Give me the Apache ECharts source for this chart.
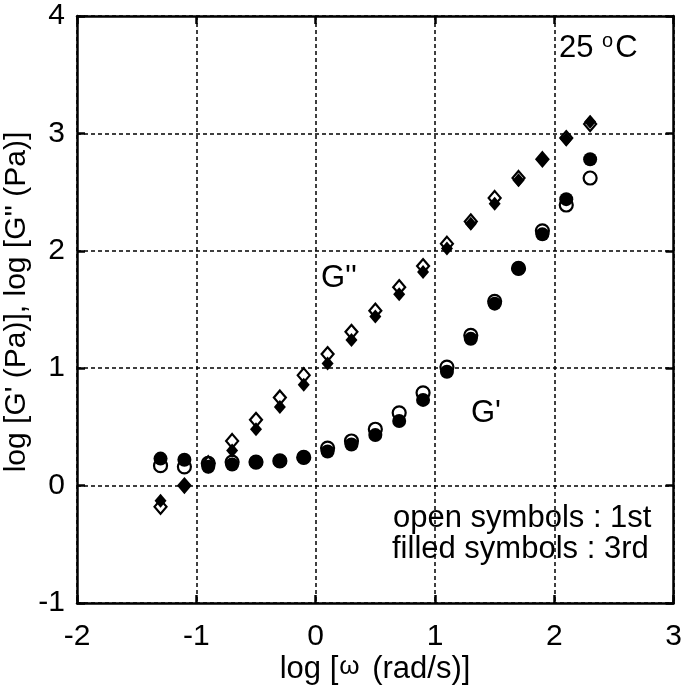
<!DOCTYPE html>
<html><head><meta charset="utf-8">
<script src="https://cdn.jsdelivr.net/npm/echarts@6/dist/echarts.min.js"></script>
<style>html,body{margin:0;padding:0;background:#fff}#c{width:685px;height:685px}</style>
</head><body><div id="c"></div>
<script>
const logOmega = [-1.3,-1.1,-0.9,-0.7,-0.5,-0.3,-0.1,0.1,0.3,0.5,0.7,0.9,1.1,1.3,1.5,1.7,1.9,2.1,2.3];
const gp1st  = [0.17,0.16,0.19,0.20,0.20,0.21,0.24,0.32,0.38,0.48,0.62,0.79,1.01,1.28,1.57,1.85,2.17,2.39,2.62];
const gp3rd  = [0.23,0.22,0.16,0.18,0.20,0.21,0.24,0.29,0.35,0.43,0.55,0.73,0.97,1.25,1.55,1.85,2.14,2.44,2.78];
const gpp1st = [-0.18,0.00,0.19,0.38,0.56,0.75,0.94,1.12,1.31,1.49,1.69,1.87,2.06,2.25,2.45,2.62,2.78,2.96,3.08];
const gpp3rd = [-0.13,0.00,0.16,0.30,0.48,0.67,0.86,1.04,1.24,1.44,1.63,1.82,2.02,2.23,2.40,2.60,2.78,2.95,3.10];
const xTicks = [-2,-1,0,1,2,3];
const yTicks = [-1,0,1,2,3,4];

const pair = (xs, ys) => xs.map((x,i)=>[x, ys[i]]);
const FONT = '"Liberation Sans", Arial, sans-serif';
const FS = 30, FT = 31;
const chart = echarts.init(document.getElementById('c'));
const axisCommon = {
  axisLine:{show:true,onZero:false,lineStyle:{color:'#000',width:2.5}},
  axisTick:{show:true,inside:true,length:8,lineStyle:{color:'#000',width:2.5}},
  splitLine:{show:false}
};
const gridLine = {show:true,lineStyle:{color:'#000',type:[4,3],width:1.5}};
chart.setOption({
  animation:false,
  backgroundColor:'#fff',
  grid:{left:77,right:8,top:16,bottom:82},
  xAxis:[
    Object.assign({type:'value',min:-2,max:3,interval:1,position:'bottom',
      axisLabel:{fontFamily:FONT,fontSize:FS,color:'#000',margin:19,
        formatter:v=>xTicks.includes(v)?String(v):''},
    }, axisCommon, {splitLine:gridLine}),
    Object.assign({type:'value',min:-2,max:3,interval:1,position:'top',axisLabel:{show:false}}, axisCommon)
  ],
  yAxis:[
    Object.assign({type:'value',min:-1,max:4,interval:1,position:'left',
      axisLabel:{fontFamily:FONT,fontSize:FS,color:'#000',margin:12,
        formatter:v=>yTicks.includes(v)?String(v):''},
    }, axisCommon, {splitLine:gridLine}),
    Object.assign({type:'value',min:-1,max:4,interval:1,position:'right',axisLabel:{show:false}}, axisCommon)
  ],
  series:[
    {type:'scatter',name:"G' 1st",data:pair(logOmega,gp1st),symbol:'circle',symbolSize:13,
      itemStyle:{color:'#fff',borderColor:'#000',borderWidth:2.2,opacity:1},z:2},
    {type:'scatter',name:"G'' 1st",data:pair(logOmega,gpp1st),symbol:'diamond',symbolSize:[12,14],
      itemStyle:{color:'#fff',borderColor:'#000',borderWidth:2.2,opacity:1},z:2},
    {type:'scatter',name:"G' 3rd",data:pair(logOmega,gp3rd),symbol:'circle',symbolSize:14,
      itemStyle:{color:'#000',borderWidth:0,opacity:1},z:3},
    {type:'scatter',name:"G'' 3rd",data:pair(logOmega,gpp3rd),symbol:'diamond',symbolSize:[12,14],
      itemStyle:{color:'#000',borderWidth:0,opacity:1},z:3}
  ],
  graphic:[
    {type:'text',x:17,y:302,rotation:Math.PI/2,style:{text:"log [G' (Pa)], log [G'' (Pa)]",font:FS+'px '+FONT,fill:'#000',align:'center',verticalAlign:'middle'}},
    {type:'text',x:375,y:669,style:{text:'{n|log [}{w|ω}{n| (rad/s)]}',align:'center',verticalAlign:'middle',
      rich:{n:{fontFamily:FONT,fontSize:FT,fill:'#000'},
            w:{fontFamily:FONT,fontSize:26,fill:'#000',verticalAlign:'top',padding:[0,4,4,1]}}}},
    {type:'text',x:321,y:278,style:{text:"G''",font:FT+'px '+FONT,fill:'#000',align:'left',verticalAlign:'middle'}},
    {type:'text',x:471,y:413,style:{text:"G'",font:FT+'px '+FONT,fill:'#000',align:'left',verticalAlign:'middle'}},
    {type:'text',x:559,y:48,style:{text:'{n|25 }{s|o}{n|C}',align:'left',verticalAlign:'middle',
      rich:{n:{fontFamily:FONT,fontSize:FT,fill:'#000'},
            s:{fontFamily:FONT,fontSize:20,fill:'#000',verticalAlign:'top',padding:[0,2,14,0]}}}},
    {type:'text',x:393,y:518,style:{text:'open symbols : 1st',font:FT+'px '+FONT,fill:'#000',align:'left',verticalAlign:'middle'}},
    {type:'text',x:392,y:549,style:{text:'filled symbols : 3rd',font:FT+'px '+FONT,fill:'#000',align:'left',verticalAlign:'middle'}}
  ]
});
</script></body></html>
